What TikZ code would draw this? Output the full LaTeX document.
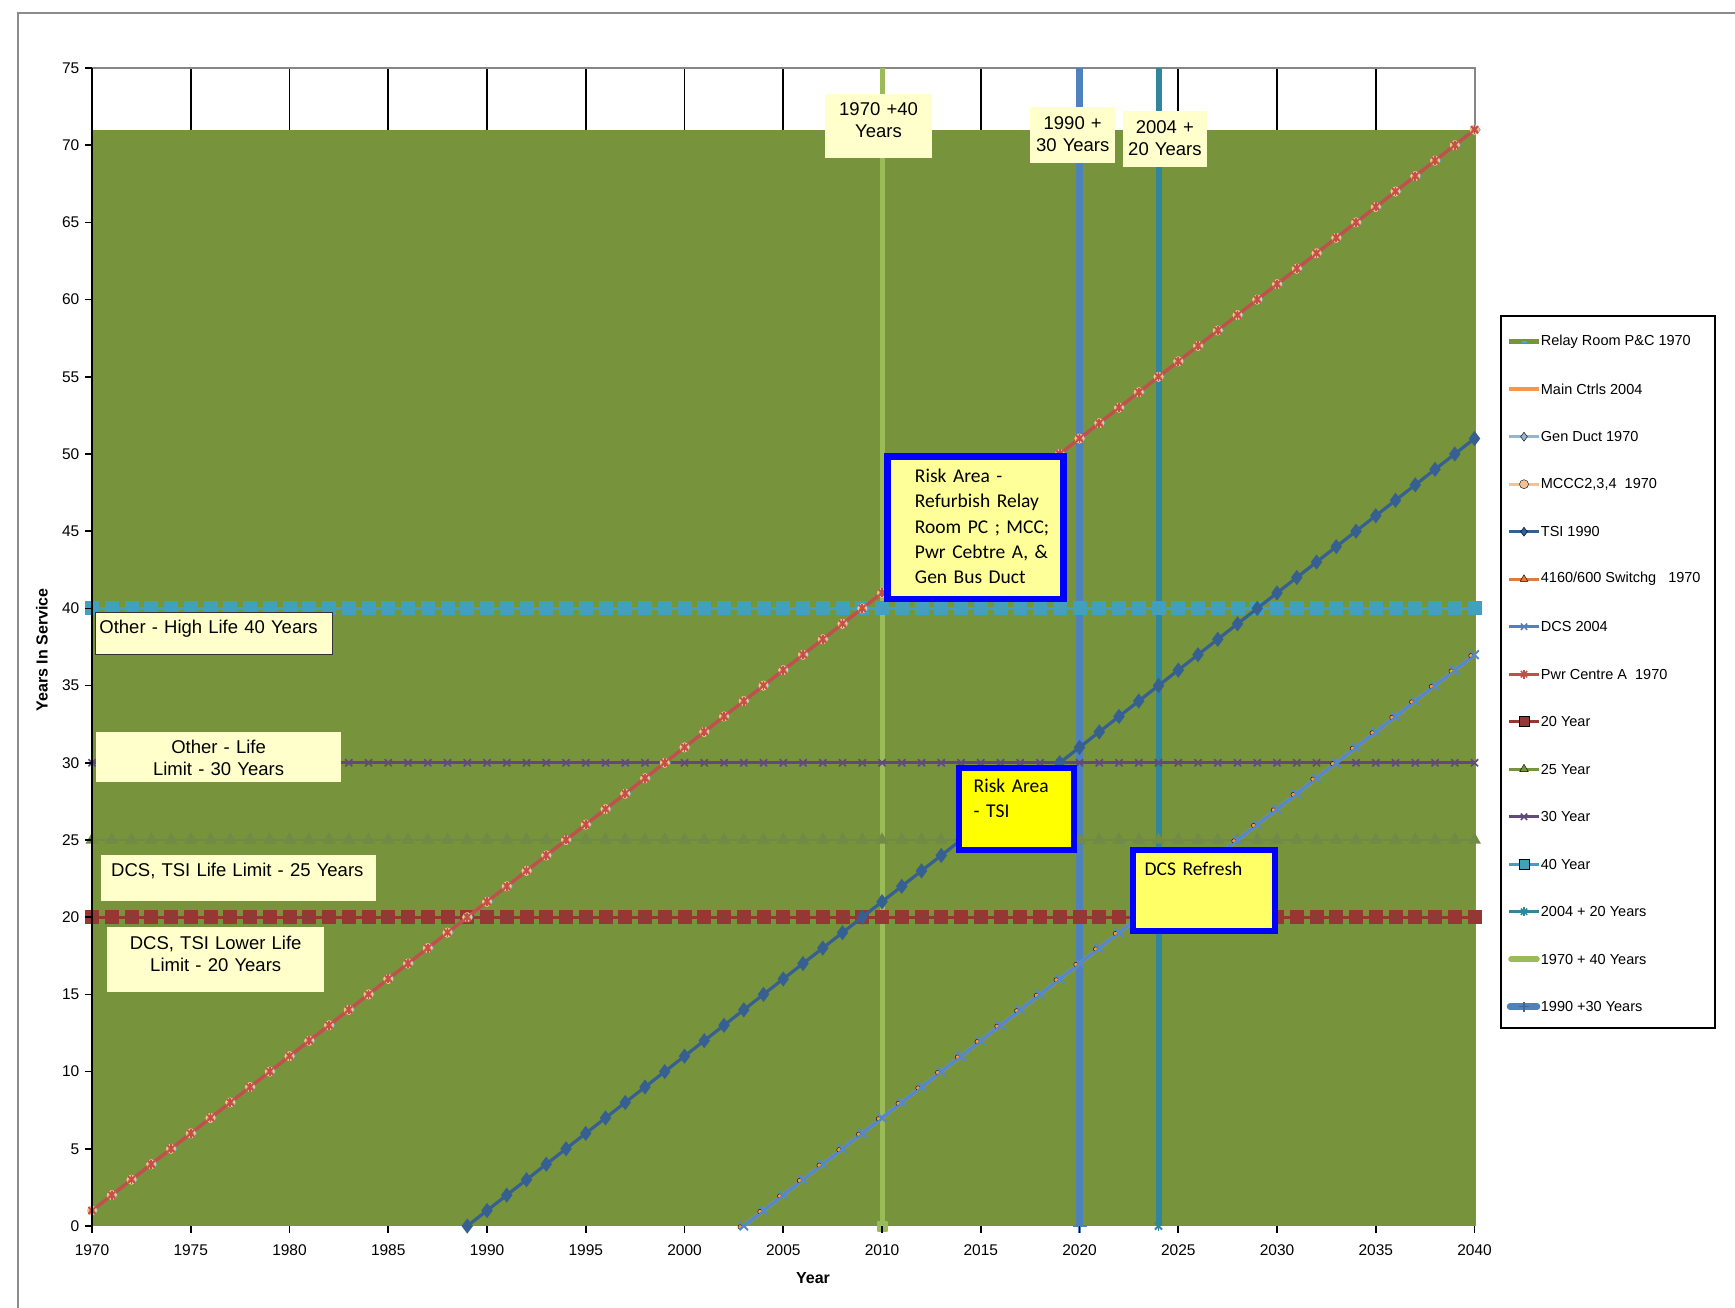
\documentclass[tikz,border=0pt]{standalone}
\usepackage{fontspec}
\setmainfont{Liberation Sans}
\newfontfamily\calib{Carlito}
\usetikzlibrary{plotmarks}

\definecolor{framegray}{HTML}{8C8C8C}
\definecolor{axisgray}{HTML}{868686}
\definecolor{areagreen}{HTML}{77933C}
\definecolor{cRed}{HTML}{C0504D}
\definecolor{cPeach}{HTML}{FAC090}
\definecolor{cOrange}{HTML}{E07B39}
\definecolor{cMain}{HTML}{F79646}
\definecolor{cGen}{HTML}{95B3D7}
\definecolor{cCyan}{HTML}{4BACC6}
\definecolor{cTSI}{HTML}{376092}
\definecolor{cDCS}{HTML}{4F81BD}
\definecolor{cDCSline}{HTML}{5388CC}
\definecolor{cTwenty}{HTML}{953735}
\definecolor{cTwentyFive}{HTML}{6F8B45}
\definecolor{cThirty}{HTML}{604A7B}
\definecolor{cForty}{HTML}{41A0BE}
\definecolor{cSeventy}{HTML}{9BBB59}
\definecolor{cNinety}{HTML}{4F81BD}
\definecolor{cOhFour}{HTML}{31859C}
\definecolor{lblyellow}{HTML}{FFFFCC}
\definecolor{riskblue}{HTML}{0000FF}
\definecolor{riskA}{HTML}{FFFF99}
\definecolor{riskB}{HTML}{FFFF00}
\definecolor{riskC}{HTML}{FFFF66}

\tikzset{
  lbl/.style={fill=lblyellow, inner ysep=0pt, anchor=north west,
    font=\fontsize{18.5}{22}\selectfont},
  riskbox/.style={draw=riskblue, line width=6.5pt, inner sep=0pt, align=left,
    anchor=north west, font=\calib\fontsize{19.5}{25.3}\selectfont},
  legtext/.style={anchor=west, inner sep=0pt, font=\fontsize{14.5}{17}\selectfont},
  ticklbl/.style={inner sep=0pt, font=\fontsize{15.5}{18}\selectfont},
  legline/.style={line width=3pt},
}

\begin{document}
\begin{tikzpicture}[x=1pt,y=1pt]
\useasboundingbox (0,0) rectangle (1735,1307);
\fill[white] (0,0) rectangle (1735,1307);

% chart frame
\draw[framegray, line width=2pt] (17.7,-2) -- (17.7,1293.7) -- (1737,1293.7);

% ---------- plot area: x = years after 1970, y = years in service ----------
\begin{scope}[shift={(92,81)}, x=19.75pt, y=15.44pt]
  % gridlines (visible above the filled area only)
  \foreach \k in {1,...,13} \draw[black, line width=1.7pt] (5*\k,0) -- (5*\k,75);
  \draw[axisgray, line width=2pt] (0,75) -- (70,75) -- (70,0);

  % Relay Room P&C 1970 area
  \fill[areagreen] (0,0) rectangle (70,71);

  % milestone verticals
  \draw[cSeventy, line width=5pt] (40,0) -- (40,75);
  \draw[cNinety, line width=6.5pt] (50,0) -- (50,75);
  \draw[cOhFour, line width=6pt] (54,0) -- (54,75);
  \path plot[mark=square*, mark size=4.5pt, mark options={fill=cSeventy, draw=cSeventy, line width=2pt, line join=round}] coordinates {(40,0)};
  \path plot[mark=+, mark size=7pt, mark options={draw=cNinety, line width=2.5pt}] coordinates {(50,0)};
  \path plot[mark=x, mark size=5pt, mark options={draw=cOhFour, line width=1.8pt}] coordinates {(54,0)};
  \path plot[mark=|, mark size=5pt, mark options={draw=cOhFour, line width=1.8pt}] coordinates {(54,0)};

  % life limit lines
  \draw[cTwentyFive, line width=2.5pt] plot[mark=triangle*, mark size=5pt,
     mark options={fill=cTwentyFive, draw=none}, domain=0:70, samples=71] (\x,25);
  \draw[cTwenty, line width=3pt] plot[mark=square*, mark size=5.5pt,
     mark options={fill=cTwenty, draw=none}, domain=0:70, samples=71] (\x,20);
  \draw[cThirty, line width=3pt] plot[mark=x, mark size=5pt,
     mark options={line width=1.7pt}, domain=0:70, samples=71] (\x,30);
  \draw[cForty, line width=3pt] plot[mark=square*, mark size=5.5pt,
     mark options={fill=cForty, draw=none}, domain=0:70, samples=71] (\x,40);

  % TSI 1990
  \draw[cTSI, line width=3.2pt] plot[mark=diamond*, mark size=5pt,
     mark options={fill=cTSI, draw=none}, domain=19:70, samples=52] (\x,\x-19);

  % Main Ctrls 2004 under DCS 2004
  \draw[cMain, line width=3.5pt] (33,0) -- (70,37);
  \draw[cDCSline, line width=3.5pt] (33,0) -- (70,37);
  \foreach \i in {33,...,70} {
    \path plot[mark=*, mark size=2.3pt, mark options={fill=cMain, draw=none, xshift=-3.5pt, yshift=-1pt}]
      coordinates {(\i,\i-33)};
    \path plot[mark=x, mark size=6pt, mark options={draw=cDCSline, line width=2pt}]
      coordinates {(\i,\i-33)};
  }

  % 1970 equipment: Pwr Centre A, Gen Duct, MCCC, Switchgear
  \draw[cRed, line width=3.4pt] (0,1) -- (70,71);
  \draw[cCyan] plot[only marks, mark=diamond*, mark size=3.2pt,
     mark options={fill=cCyan, draw=none, xshift=3.5pt}, domain=0:70, samples=71] (\x,\x+1);
  \draw[cPeach] plot[only marks, mark=*, mark size=4.8pt,
     mark options={fill=cPeach, draw=none}, domain=0:70, samples=71] (\x,\x+1);
  \draw[cOrange] plot[only marks, mark=triangle*, mark size=4.3pt,
     mark options={fill=cOrange, draw=none}, domain=0:70, samples=71] (\x,\x+1);
  \draw[cRed] plot[only marks, mark=x, mark size=5pt,
     mark options={line width=1.8pt}, domain=0:70, samples=71] (\x,\x+1);
  \draw[cRed] plot[only marks, mark=|, mark size=4.5pt,
     mark options={line width=1.6pt}, domain=0:70, samples=71] (\x,\x+1);

  % axes
  \draw[black, line width=2pt] (0,0) -- (0,75);
  \foreach \v in {0,5,...,75} {
    \draw[black, line width=1.6pt] ([xshift=-7pt]0,\v) -- (0,\v);
    \node[ticklbl, anchor=east] (ylab\v) at ([xshift=-12.5pt]0,\v) {\v};
  }
  \foreach \k in {0,...,14} {
    \pgfmathtruncatemacro\yr{1970+5*\k}
    \draw[black, line width=1.6pt] (5*\k,0) -- ([yshift=-7pt]5*\k,0);
    \node[ticklbl] (xlab\k) at ([yshift=-24pt]5*\k,0) {\yr};
  }
\end{scope}

% axis titles
\node[font=\bfseries\fontsize{16}{19}\selectfont, rotate=90] (ytitle) at (42,657) {Years In Service};
\node[font=\bfseries\fontsize{16}{19}\selectfont] (xtitle) at (813,29) {Year};

% milestone labels
\node[lbl, text width=102.7pt, inner xsep=2pt, align=center, text height=21.5pt, text depth=42.5pt]
  (m1970) at (825,1213) {1970 +40\\Years};
\node[lbl, text width=81pt, inner xsep=2pt, align=center, text height=22.2pt, text depth=33.5pt]
  (m1990) at (1030,1200) {1990 +\\30 Years};
\node[lbl, text width=80pt, inner xsep=2pt, align=center, text height=22.2pt, text depth=33.5pt]
  (m2004) at (1122.7,1196) {2004 +\\20 Years};

% life limit labels
\node[lbl, draw=black!80, line width=0.8pt, text width=229pt, inner xsep=4pt, align=left,
  text height=21.5pt, text depth=20.5pt] (l40) at (95,695) {Other - High Life 40 Years};
\node[lbl, text width=240.7pt, inner xsep=2pt, align=center, text height=21.2pt, text depth=28.8pt]
  (l30) at (96,575) {Other - Life\\Limit - 30 Years};
\node[lbl, text width=255pt, inner xsep=10pt, align=left, text height=21.5pt, text depth=24.2pt]
  (l25) at (101,452) {DCS, TSI Life Limit - 25 Years};
\node[lbl, text width=213pt, inner xsep=2pt, align=center, text height=22.2pt, text depth=42.5pt]
  (l20) at (107,380) {DCS, TSI Lower Life\\Limit - 20 Years};

% risk call-outs
\node[riskbox, fill=riskA, text width=176pt, text height=26pt, text depth=116.4pt]
  (riskRelay) at (884,853.7)
  {\hspace*{27.7pt}Risk Area -\\\hspace*{27.7pt}Refurbish Relay\\\hspace*{27.7pt}Room PC ; MCC;\\\hspace*{27.7pt}Pwr Cebtre A, \&\\\hspace*{27.7pt}Gen Bus Duct};
\node[riskbox, fill=riskB, line width=6pt, text width=114.7pt, text height=24.6pt, text depth=57.7pt,
  font=\calib\fontsize{19.5}{25}\selectfont]
  (riskTSI) at (956.3,542.3) {\hspace*{14.4pt}Risk Area\\\hspace*{14.4pt}- TSI};
\node[riskbox, fill=riskC, line width=6pt, text width=142.3pt, text height=26pt, text depth=54.7pt]
  (riskDCS) at (1129.7,460) {\hspace*{12pt}DCS Refresh};

% legend
\draw[black, line width=2pt, fill=white] (1500.7,279) rectangle (1715.3,991.3);
\def\lx{1509}\def\rx{1539}\def\mx{1524}\def\tx{1540.7}
% 1 Relay Room P&C 1970
\draw[areagreen, line width=5pt] (\lx,965.3) -- (\rx,965.3);
\draw[cCyan, line width=2pt] (1522,965.3) -- (1527,965.3);
\node[legtext] (lg1) at (\tx,965.3) {Relay Room P\&C 1970};
% 2 Main Ctrls 2004
\draw[cMain, legline, line width=3.5pt] (\lx,917.8) -- (\rx,917.8);
\node[legtext] (lg2) at (\tx,917.8) {Main Ctrls 2004};
% 3 Gen Duct 1970
\draw[cGen, legline] (\lx,870.3) -- (\rx,870.3);
\path plot[mark=diamond*, mark size=4.5pt, mark options={fill=cGen, draw=none}] coordinates {(\mx,870.3)};
\node[legtext] (lg3) at (\tx,870.3) {Gen Duct 1970};
% 4 MCCC2,3,4 1970
\draw[cPeach, legline] (\lx,822.8) -- (\rx,822.8);
\path plot[mark=*, mark size=4.5pt, mark options={fill=cPeach, draw=none}] coordinates {(\mx,822.8)};
\node[legtext] (lg4) at (\tx,822.8) {MCCC2,3,4\ \ 1970};
% 5 TSI 1990
\draw[cTSI, legline] (\lx,775.3) -- (\rx,775.3);
\path plot[mark=diamond*, mark size=4.5pt, mark options={fill=cTSI, draw=none}] coordinates {(\mx,775.3)};
\node[legtext] (lg5) at (\tx,775.3) {TSI 1990};
% 6 4160/600 Switchg 1970
\draw[cOrange, legline] (\lx,727.8) -- (\rx,727.8);
\path plot[mark=triangle*, mark size=4.5pt, mark options={fill=cOrange, draw=none}] coordinates {(\mx,727.8)};
\node[legtext] (lg6) at (\tx,727.8) {4160/600 Switchg\ \ \ 1970};
% 7 DCS 2004
\draw[cDCS, legline] (\lx,680.3) -- (\rx,680.3);
\path plot[mark=x, mark size=4.5pt, mark options={draw=cDCS, line width=1.5pt}] coordinates {(\mx,680.3)};
\node[legtext] (lg7) at (\tx,680.3) {DCS 2004};
% 8 Pwr Centre A 1970
\draw[cRed, legline] (\lx,632.8) -- (\rx,632.8);
\path plot[mark=x, mark size=4.5pt, mark options={draw=cRed, line width=1.5pt}] coordinates {(\mx,632.8)};
\path plot[mark=|, mark size=4.5pt, mark options={draw=cRed, line width=1.5pt}] coordinates {(\mx,632.8)};
\node[legtext] (lg8) at (\tx,632.8) {Pwr Centre A\ \ 1970};
% 9 20 Year
\draw[cTwenty, legline] (\lx,585.3) -- (\rx,585.3);
\path plot[mark=square*, mark size=5pt, mark options={fill=cTwenty, draw=none}] coordinates {(\mx,585.3)};
\node[legtext] (lg9) at (\tx,585.3) {20 Year};
% 10 25 Year
\draw[areagreen, legline] (\lx,537.8) -- (\rx,537.8);
\path plot[mark=triangle*, mark size=5pt, mark options={fill=areagreen, draw=none}] coordinates {(\mx,537.8)};
\node[legtext] (lg10) at (\tx,537.8) {25 Year};
% 11 30 Year
\draw[cThirty, legline] (\lx,490.3) -- (\rx,490.3);
\path plot[mark=x, mark size=4.5pt, mark options={draw=cThirty, line width=1.6pt}] coordinates {(\mx,490.3)};
\node[legtext] (lg11) at (\tx,490.3) {30 Year};
% 12 40 Year
\draw[cForty, legline] (\lx,442.8) -- (\rx,442.8);
\path plot[mark=square*, mark size=5pt, mark options={fill=cForty, draw=none}] coordinates {(\mx,442.8)};
\node[legtext] (lg12) at (\tx,442.8) {40 Year};
% 13 2004 + 20 Years
\draw[cOhFour, legline] (\lx,395.3) -- (\rx,395.3);
\path plot[mark=x, mark size=4.5pt, mark options={draw=cOhFour, line width=1.5pt}] coordinates {(\mx,395.3)};
\path plot[mark=|, mark size=4.5pt, mark options={draw=cOhFour, line width=1.5pt}] coordinates {(\mx,395.3)};
\node[legtext] (lg13) at (\tx,395.3) {2004 + 20 Years};
% 14 1970 + 40 Years
\draw[cSeventy, line width=5.5pt, line cap=round] (1511,347.8) -- (1537,347.8);
\node[legtext] (lg14) at (\tx,347.8) {1970 + 40 Years};
% 15 1990 +30 Years
\draw[cNinety, line width=6.5pt, line cap=round] (1510,300.3) -- (1537,300.3);
\path plot[mark=+, mark size=5pt, mark options={draw=cTSI!80!cNinety, line width=1.5pt}] coordinates {(\mx,300.3)};
\node[legtext] (lg15) at (\tx,300.3) {1990 +30 Years};
\end{tikzpicture}
\end{document}
